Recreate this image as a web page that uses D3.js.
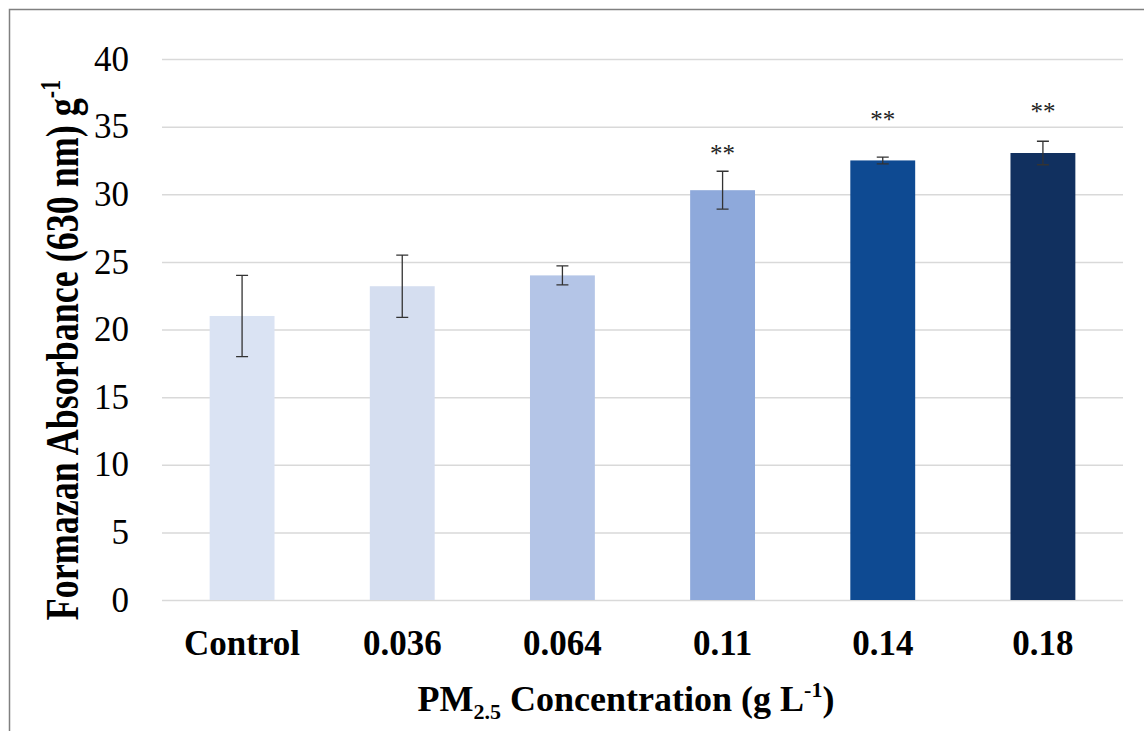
<!DOCTYPE html>
<html>
<head>
<meta charset="utf-8">
<script src="https://cdn.jsdelivr.net/npm/d3@7/dist/d3.min.js"></script>
<style>
  body { margin: 0; background: #fff; }
  svg { display: block; }
  text { font-family: "Liberation Serif", "Times New Roman", serif; fill: #000; }
</style>
</head>
<body>
<div id="chart"></div>
<script>
// data
var categories = ["Control", "0.036", "0.064", "0.11", "0.14", "0.18"];
var means = [21.0, 23.2, 24.0, 30.3, 32.5, 33.05];
var errors = [3.0, 2.3, 0.7, 1.4, 0.25, 0.87];
var barColors = ["#dae3f3", "#d5def0", "#b4c5e7", "#8ea9db", "#0e4a92", "#11305f"];
var starText = ["", "", "", "**", "**", "**"];
var starLevel = [null, null, null, 33.3, 35.8, 36.4];
var yTicks = [0, 5, 10, 15, 20, 25, 30, 35, 40];

var w = 1144, h = 731;
var plotLeft = 162, plotRight = 1123, plotTop = 59, plotBottom = 600;

var svg = d3.select("#chart")
	.append("svg")
	.attr("width", w)
	.attr("height", h);

// outer frame (top and left edge only visible)
svg.append("path")
	.attr("d", "M9.5," + h + "V9.5H" + w)
	.attr("fill", "none")
	.attr("stroke", "#808080")
	.attr("stroke-width", 1.5);

var x = d3.scaleBand()
	.domain(categories)
	.range([plotLeft, plotRight])
	.paddingInner(0.595)
	.paddingOuter(0.2975);

var y = d3.scaleLinear()
	.domain([0, 40])
	.range([plotBottom, plotTop]);

// y axis with gridlines
var yAxis = d3.axisLeft(y)
	.tickValues(yTicks)
	.tickSize(-(plotRight - plotLeft))
	.tickPadding(33);

var gy = svg.append("g")
	.attr("transform", "translate(" + plotLeft + ",0)")
	.call(yAxis);
gy.select(".domain").remove();
gy.selectAll(".tick line")
	.attr("stroke", "#d9d9d9")
	.attr("stroke-width", 1.5);
gy.selectAll(".tick text")
	.style("font-size", "35px")
	.style("font-family", "'Liberation Serif', serif")
	.attr("fill", "#000");

// bars
svg.selectAll(".bar")
	.data(means)
	.enter()
	.append("rect")
	.attr("class", "bar")
	.attr("x", function(d, i) { return x(categories[i]); })
	.attr("y", function(d) { return y(d); })
	.attr("width", x.bandwidth())
	.attr("height", function(d) { return y(0) - y(d); })
	.attr("fill", function(d, i) { return barColors[i]; });

// error bars
var capW = 6;
var eg = svg.append("g")
	.attr("stroke", "#333")
	.attr("stroke-width", 1.3)
	.attr("fill", "none");
means.forEach(function(m, i) {
	var cx = x(categories[i]) + x.bandwidth() / 2;
	var y1 = y(m + errors[i]), y2 = y(m - errors[i]);
	eg.append("path")
		.attr("d", "M" + cx + "," + y1 + "V" + y2 +
			"M" + (cx - capW) + "," + y1 + "H" + (cx + capW) +
			"M" + (cx - capW) + "," + y2 + "H" + (cx + capW));
});

// significance marks
svg.selectAll(".star")
	.data(starText)
	.enter()
	.append("text")
	.attr("class", "star")
	.attr("x", function(d, i) { return x(categories[i]) + x.bandwidth() / 2; })
	.attr("y", function(d, i) { return starLevel[i] == null ? 0 : y(starLevel[i]) + 12; })
	.attr("text-anchor", "middle")
	.style("font-size", "25px")
	.style("fill", "#222")
	.text(function(d) { return d; });

// x axis labels
var xAxis = d3.axisBottom(x)
	.tickSize(0)
	.tickPadding(30);
var gx = svg.append("g")
	.attr("transform", "translate(0," + plotBottom + ")")
	.call(xAxis);
gx.select(".domain").remove();
gx.selectAll(".tick text")
	.style("font-size", "35px")
	.style("font-weight", "bold")
	.style("font-family", "'Liberation Serif', serif")
	.attr("fill", "#000");

// x title
var xt = svg.append("text")
	.attr("x", 626)
	.attr("y", 711)
	.attr("text-anchor", "middle")
	.style("font-size", "36px")
	.style("font-weight", "bold");
xt.append("tspan").text("PM");
xt.append("tspan").attr("dy", 8).style("font-size", "22px").text("2.5");
xt.append("tspan").attr("dy", -8).text(" Concentration (g L");
xt.append("tspan").attr("dy", -14).style("font-size", "22px").text("-1");
xt.append("tspan").attr("dy", 14).text(")");

// y title (glyphs look stretched across the axis in the original)
var yt = svg.append("text")
	.attr("transform", "translate(78,350) rotate(-90) scale(1,1.3)")
	.attr("text-anchor", "middle")
	.style("font-size", "36px")
	.style("font-weight", "bold");
yt.append("tspan").text("Formazan Absorbance (630 nm) g");
yt.append("tspan").attr("dy", -14).style("font-size", "22px").text("-1");
</script>
</body>
</html>
